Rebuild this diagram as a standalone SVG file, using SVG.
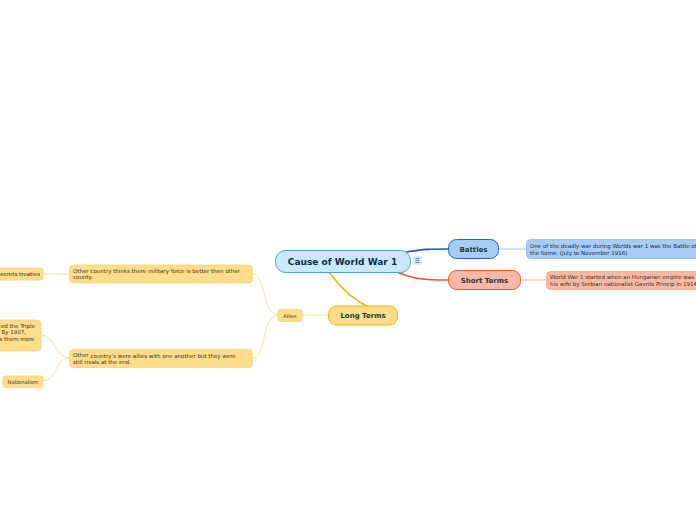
<svg xmlns="http://www.w3.org/2000/svg" width="696" height="520" viewBox="0 0 696 520">
<style>
text{font-family:"DejaVu Sans",Verdana,sans-serif;}
.main{font-size:9px;font-weight:bold;fill:#15294a;}
.sub{font-size:7px;font-weight:bold;fill:#1d3b3a;}
.sm{font-size:5.5px;fill:#3a3320;}
.smb{font-size:5.5px;fill:#1e2a3a;}
.y{fill:#fedd8a;stroke:#f9d27a;stroke-width:0.8;}
.c{fill:none;}
</style>
<rect width="696" height="520" fill="#ffffff"/>
<g id="connectors" class="c">
<path d="M406,252 C425,249 430,249 449,249" stroke="#1a56d6" stroke-width="1.6"/>
<path d="M392,270 C415,280 425,280 449,280" stroke="#f0522a" stroke-width="1.6"/>
<path d="M329,272 C344,292 355,300 368,307" stroke="#f5b400" stroke-width="1.6"/>
<path d="M499,249 L526,249" stroke="#a6c8f2" stroke-width="1"/>
<path d="M520,280 L546,280" stroke="#f7b9a6" stroke-width="1"/>
<path d="M328,315 L302,315" stroke="#fcd77f" stroke-width="0.8"/>
<path d="M278,315 C262,315 266,274 253,274" stroke="#fcd77f" stroke-width="0.8"/>
<path d="M278,315 C262,315 266,358 253,358" stroke="#fcd77f" stroke-width="0.8"/>
<path d="M43,274 L69,274" stroke="#fcd77f" stroke-width="0.8"/>
<path d="M69,358 C55,358 55,335 41,335" stroke="#fcd77f" stroke-width="0.8"/>
<path d="M69,358 C55,358 57,381 43,381" stroke="#fcd77f" stroke-width="0.8"/>
</g>
<g id="central">
<rect x="275.5" y="250.5" width="135" height="22" rx="10" fill="#c8e9fb" stroke="#4a9fd8" stroke-width="1"/>
<text class="main" x="342.5" y="264.5" text-anchor="middle">Cause of World War 1</text>
</g>
<g id="note-icon">
<rect x="413" y="256" width="9" height="9" rx="1" fill="#d5ecfb"/>
<path d="M415.5,258.5h4M415.5,260.5h4M415.5,262.5h4" stroke="#3a70b0" stroke-width="0.8"/>
</g>
<g id="battles">
<rect x="448.5" y="239.5" width="50" height="19" rx="8" fill="#a6cbf5" stroke="#1f63d0" stroke-width="1"/>
<text class="sub" x="473.5" y="251.5" text-anchor="middle">Battles</text>
</g>
<g id="battles-detail">
<rect x="526.5" y="239.5" width="180" height="19" rx="4" fill="#a6cbf5" stroke="#8fb8ee" stroke-width="0.8"/>
<text class="smb" x="530" y="247.5">One of the deadly war during Worlds  war 1 was the Battle of</text>
<text class="smb" x="530" y="254.5">the Some. (July to November 1916)</text>
</g>
<g id="short-terms">
<rect x="448.5" y="270.5" width="72" height="19" rx="8" fill="#f7b9a6" stroke="#f05a28" stroke-width="1"/>
<text class="sub" x="484.5" y="282.5" text-anchor="middle">Short Terms</text>
</g>
<g id="short-detail">
<rect x="546.5" y="271.5" width="160" height="18" rx="4" fill="#f7b9a6" stroke="#f3a488" stroke-width="0.8"/>
<text class="sm" x="550" y="279">World War 1 started when an Hungarian empire was</text>
<text class="sm" x="550" y="286">his wife by Serbian nationalist Gavrilo Princip in 1914</text>
</g>
<g id="long-terms">
<rect x="328.5" y="306" width="69" height="19" rx="8" fill="#fedd8a" stroke="#f5b400" stroke-width="1"/>
<text class="sub" x="363" y="318.2" text-anchor="middle">Long Terms</text>
</g>
<g id="allies">
<rect class="y" x="278" y="309.5" width="24" height="12" rx="2"/>
<text class="sm" x="290" y="317.5" text-anchor="middle" style="font-size:5px">Allies</text>
</g>
<g id="military">
<rect class="y" x="69.5" y="265" width="183" height="18" rx="4"/>
<text class="sm" x="73" y="272.5">Other country thinks there military force is better then other</text>
<text class="sm" x="73" y="279">county.</text>
</g>
<g id="secrets">
<rect class="y" x="-8" y="268" width="51" height="12" rx="2"/>
<text class="sm" x="40" y="276" text-anchor="end">Secrets treaties</text>
</g>
<g id="rivals">
<rect class="y" x="69.5" y="349.5" width="183" height="18" rx="4"/>
<text class="sm" x="73" y="356.5">Other</text>
<text class="sm" x="90.5" y="358">country's were allies with one  another but they were</text>
<text class="sm" x="73" y="364">still rivals at the end.</text>
</g>
<g id="triple">
<rect class="y" x="-10" y="320" width="51" height="31" rx="4"/>
<text class="sm" x="35" y="327.5" text-anchor="end">ed the Triple</text>
<text class="sm" x="26" y="334" text-anchor="end">By 1907,</text>
<text class="sm" x="34.5" y="340.5" text-anchor="end">s them more</text>
</g>
<g id="nationalism">
<rect class="y" x="3" y="376" width="40" height="11.5" rx="2"/>
<text class="sm" x="23" y="383.5" text-anchor="middle" style="font-size:5.2px">Nationalism</text>
</g>
</svg>
